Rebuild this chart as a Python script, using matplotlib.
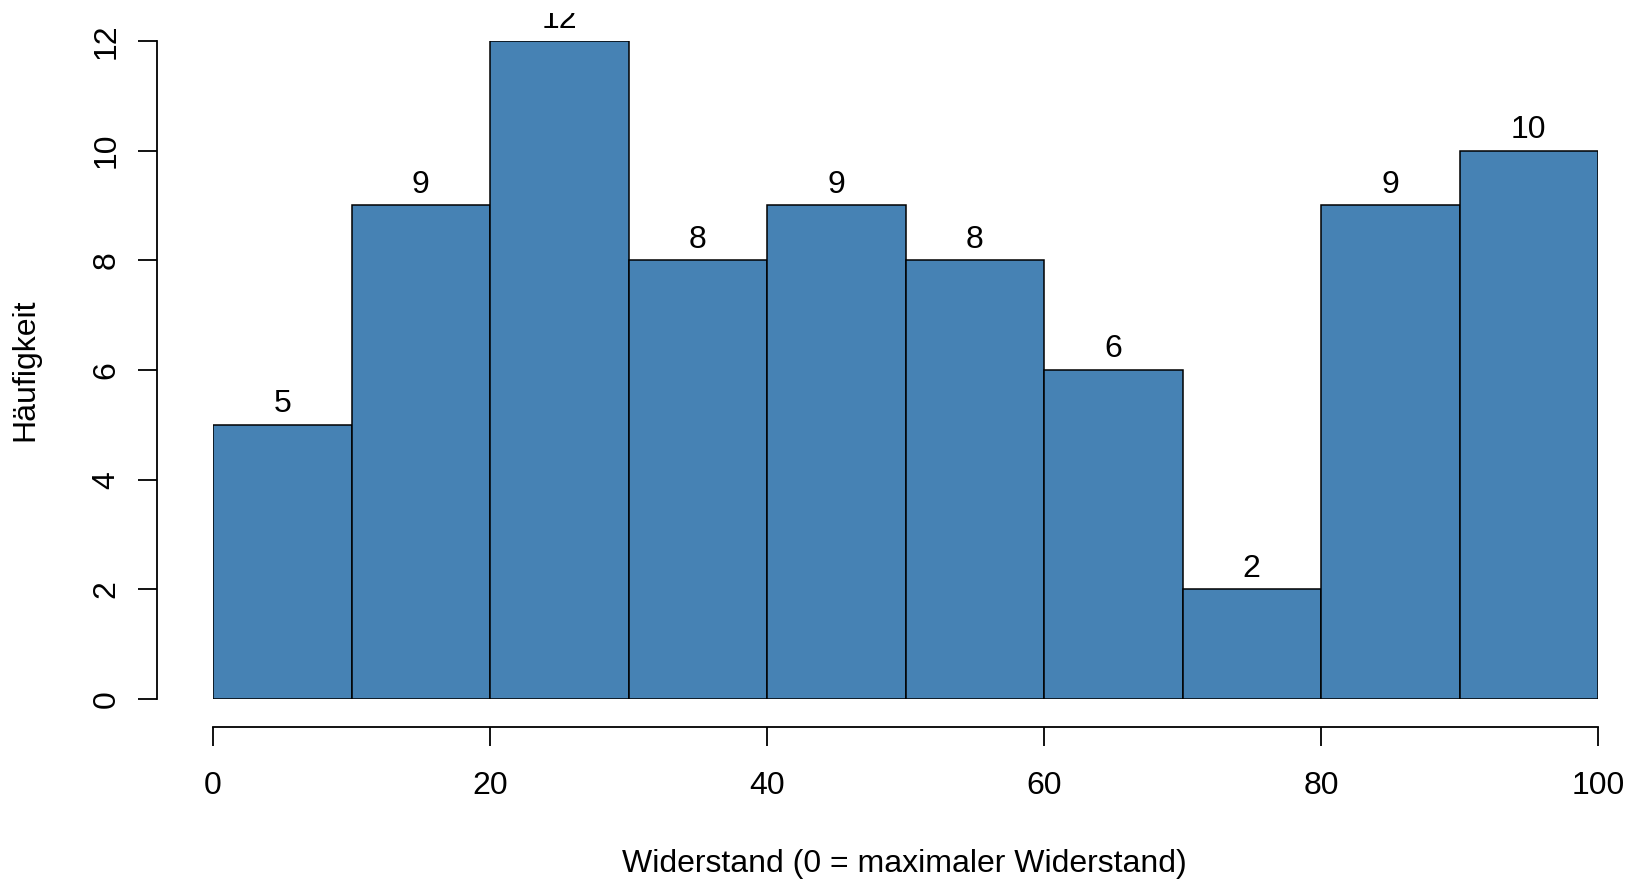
import numpy as np
import matplotlib.pyplot as plt
from matplotlib.transforms import Bbox, TransformedBbox

# Histogramm: Widerstand, Klassenbreite 10
breaks = [0, 10, 20, 30, 40, 50, 60, 70, 80, 90, 100]
counts = [5, 9, 12, 8, 9, 8, 6, 2, 9, 10]
xticks = [0, 20, 40, 60, 80, 100]
yticks = [0, 2, 4, 6, 8, 10, 12]

plt.rcParams['font.family'] = ['Liberation Sans', 'DejaVu Sans']

W, H = 1628, 880
fig = plt.figure(figsize=(W / 100, H / 100), dpi=100)
ax = fig.add_axes([213 / W, (H - 699) / H, (1598 - 213) / W, (699 - 41) / H])

lefts = np.array(breaks[:-1])
widths = np.diff(breaks)
ax.bar(lefts, counts, width=widths, align='edge', color='#4682B4',
       edgecolor='black', linewidth=1.1)

# R schneidet Text am oberen Rand ab
clip = TransformedBbox(Bbox([[0, 0], [1, 1 - 13 / H]]), fig.transFigure)
for x, w, c in zip(lefts, widths, counts):
    t = ax.annotate(str(c), (x + w / 2, c), xytext=(0, 4), textcoords='offset points',
                    ha='center', va='bottom', fontsize=23, annotation_clip=False)
    t.set_clip_box(clip)
    t.set_clip_on(True)

ax.set_xlim(0, 100)
ax.set_ylim(0, 12)
ax.set_xticks(xticks)
ax.set_yticks(yticks)

for s in ['top', 'right']:
    ax.spines[s].set_visible(False)
ax.spines['left'].set_position(('outward', 40))
ax.spines['bottom'].set_position(('outward', 20))
ax.spines['left'].set_bounds(0, 12)
ax.spines['bottom'].set_bounds(0, 100)
for s in ['left', 'bottom']:
    ax.spines[s].set_linewidth(1.3)

ax.tick_params(axis='both', length=14, width=1.3, labelsize=23)
ax.tick_params(axis='y', labelrotation=90, pad=12)
ax.tick_params(axis='x', pad=18)
for lab in ax.get_yticklabels():
    lab.set_va('center')

fig.text(904 / W, 1 - 864 / H, 'Widerstand (0 = maximaler Widerstand)',
         ha='center', va='center', fontsize=23)
fig.text(25 / W, 1 - 370 / H, 'Häufigkeit', ha='center', va='center',
         rotation=90, fontsize=23)

fig.savefig('out.png', dpi=100)
